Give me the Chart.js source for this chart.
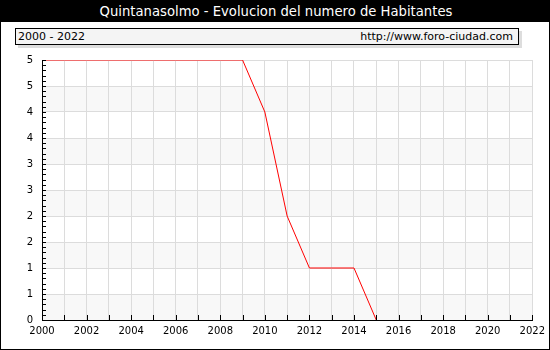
<!DOCTYPE html>
<html>
<head>
<meta charset="utf-8">
<script src="https://cdn.jsdelivr.net/npm/chart.js@4.4.0/dist/chart.umd.min.js"></script>
<style>
    body { margin: 0; background: #fff; }
    #marco { position: relative; width: 550px; height: 350px; box-sizing: border-box; border: 1px solid #000; border-top: none; overflow: hidden; font-family: "DejaVu Sans", Verdana, sans-serif; }
    #titulo { position: absolute; left: 0; top: 0; width: 550px; height: 22px; background: #000; color: #fff; font-size: 13.2px; line-height: 24px; text-align: center; }
    #leyenda { position: absolute; left: 14px; top: 28px; width: 502px; height: 15px; border: 1px solid #000; background: #f4f4f4; box-shadow: 3px 3px 0 #ddd; font-size: 11px; line-height: 15px; }
    #leyenda .izq { position: absolute; left: 2px; top: 0; }
    #leyenda .der { position: absolute; right: 5px; top: 0; }
    canvas { position: absolute; left: -1px; top: 0; }
</style>
</head>
<body>
<div id="marco">
    <div id="titulo">Quintanasolmo - Evolucion del numero de Habitantes</div>
    <div id="leyenda"><span class="izq">2000 - 2022</span><span class="der">http://www.foro-ciudad.com</span></div>
    <canvas id="myChart" width="550" height="350"></canvas>
</div>
<script>
// datos
const anios = [2000, 2001, 2002, 2003, 2004, 2005, 2006, 2007, 2008, 2009, 2010, 2011, 2012, 2013, 2014, 2015];
const habitantes = [5, 5, 5, 5, 5, 5, 5, 5, 5, 5, 4, 2, 1, 1, 1, 0];
const etiquetasX = [2000, 2002, 2004, 2006, 2008, 2010, 2012, 2014, 2016, 2018, 2020, 2022];

// bandas grises (antes de la rejilla) y marcas interiores de los ejes
const fondoYmarcas = {
    id: 'fondoYmarcas',
    beforeDraw(chart) {
        const ctx = chart.ctx;
        const a = chart.chartArea;
        const y = chart.scales.y;
        ctx.save();
        ctx.fillStyle = '#f8f8f8';
        for (let v = 0; v < 5; v += 1) {
            const y1 = y.getPixelForValue(v);
            const y2 = y.getPixelForValue(v + 0.5);
            ctx.fillRect(a.left, y2, a.right - a.left, y1 - y2);
        }
        ctx.restore();
    },
    afterDraw(chart) {
        const ctx = chart.ctx;
        const x = chart.scales.x;
        const y = chart.scales.y;
        const a = chart.chartArea;
        ctx.save();
        ctx.strokeStyle = '#000';
        ctx.lineWidth = 1;
        ctx.beginPath();
        for (let i = 0; i <= 50; i++) {
            const py = Math.round(y.getPixelForValue(i * 0.1)) + 0.5;
            ctx.moveTo(a.left, py);
            ctx.lineTo(a.left + 4, py);
        }
        for (let yr = 2000; yr <= 2022; yr++) {
            const px = Math.round(x.getPixelForValue(yr)) + 0.5;
            ctx.moveTo(px, a.bottom);
            ctx.lineTo(px, a.bottom - 5);
        }
        ctx.stroke();
        ctx.restore();
    }
};

Chart.defaults.font.family = '"DejaVu Sans", Verdana, sans-serif';
Chart.defaults.font.size = 10;
Chart.defaults.color = '#000';

new Chart(
    document.getElementById('myChart'),
    {
        type: 'line',
        data: {
            datasets: [
                {
                    label: 'Habitantes',
                    data: anios.map((a, i) => ({ x: a, y: habitantes[i] })),
                    borderColor: '#ff0000',
                    borderWidth: 1,
                    pointRadius: 0,
                    tension: 0,
                    fill: false
                }
            ]
        },
        plugins: [fondoYmarcas],
        options: {
            responsive: false,
            animation: false,
            layout: { padding: { left: 0, right: 17, top: 60, bottom: 0 } },
            plugins: {
                legend: { display: false },
                tooltip: { enabled: false }
            },
            scales: {
                x: {
                    type: 'linear',
                    min: 2000,
                    max: 2022,
                    afterBuildTicks: (s) => {
                        s.ticks = [];
                        for (let yr = 2000; yr <= 2022; yr++) s.ticks.push({ value: yr });
                    },
                    afterFit: (s) => { s.height = 30; },
                    ticks: {
                        autoSkip: false,
                        maxRotation: 0,
                        padding: 5,
                        callback: (v) => etiquetasX.includes(v) ? String(v) : ''
                    },
                    grid: { color: '#dcdcdc', drawTicks: false },
                    border: { color: '#000', width: 1 }
                },
                y: {
                    min: 0,
                    max: 5,
                    afterFit: (s) => { s.width = 42; },
                    ticks: {
                        stepSize: 0.5,
                        padding: 9,
                        callback: (v) => String(Math.round(v))
                    },
                    grid: { color: '#dcdcdc', drawTicks: false },
                    border: { color: '#000', width: 1 }
                }
            }
        }
    }
);
</script>
</body>
</html>
